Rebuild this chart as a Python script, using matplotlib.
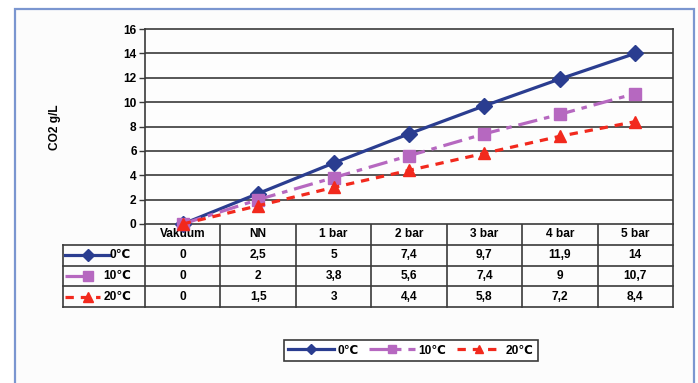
import matplotlib
matplotlib.use("Agg")
import matplotlib.pyplot as plt
from matplotlib.lines import Line2D
from matplotlib.patches import Rectangle
from matplotlib.font_manager import FontProperties

plt.rcParams['font.family'] = ['Liberation Sans', 'DejaVu Sans']
plt.rcParams['font.weight'] = 'bold'
plt.rcParams['lines.scale_dashes'] = False

categories = ["Vakuum", "NN", "1 bar", "2 bar", "3 bar", "4 bar", "5 bar"]
series_names = ["0℃", "10℃", "20℃"]
vals_0c = [0, 2.5, 5, 7.4, 9.7, 11.9, 14]
vals_10c = [0, 2, 3.8, 5.6, 7.4, 9, 10.7]
vals_20c = [0, 1.5, 3, 4.4, 5.8, 7.2, 8.4]
y_ticks = [0, 2, 4, 6, 8, 10, 12, 14, 16]
y_label = "CO2 g/L"

W, H = 698, 383
fig = plt.figure(figsize=(W / 100, H / 100), dpi=100, facecolor='white')

def fx(px):
    return px / W

def fy(py):
    return 1 - py / H

# outer frame
frame = Rectangle((fx(15), fy(420)), fx(694) - fx(15), fy(9.5) - fy(420),
                  transform=fig.transFigure, facecolor='#fcfcfc',
                  edgecolor='#7b96d0', lw=1.6, zorder=-10)
fig.patches.append(frame)

colors = ['#2a3d90', '#b668c0', '#f2291d']
markers = ['D', 's', '^']
msizes = [8, 8.5, 8.5]
dash_styles = ['-', (0, (14, 5, 4, 5)), (0, (6, 5))]
series = [vals_0c, vals_10c, vals_20c]
fs = 8.6

# main plot
px_left, px_right, px_top, px_bot = 145, 673, 29, 224
ax = fig.add_axes([fx(px_left), fy(px_bot), fx(px_right) - fx(px_left), fy(px_top) - fy(px_bot)])
ax.set_zorder(1)
ax.set_facecolor('#fdfdfd')
ax.set_xlim(-0.5, len(categories) - 0.5)
ax.set_ylim(0, 16)
ax.set_yticks(y_ticks)
ax.set_xticks([])
for t in y_ticks[1:-1]:
    ax.axhline(t, color='#3a3a3a', lw=1.2, zorder=1)
for s in ax.spines.values():
    s.set_color('#3a3a3a')
    s.set_linewidth(1.2)
ax.tick_params(axis='y', length=4, width=1.0, color='#3a3a3a', pad=2, labelsize=fs)
for lbl in ax.get_yticklabels():
    lbl.set_fontweight('bold')
ax.set_ylabel(y_label, fontsize=fs, fontweight='bold')
ax.yaxis.set_label_coords(-0.16, 0.497)

xs = list(range(len(categories)))
handles = []
for vals, c, m, ms, ls, name in zip(series, colors, markers, msizes, dash_styles, series_names):
    ln, = ax.plot(xs, vals, color=c, lw=2.3, linestyle=ls, marker=m, markersize=ms,
                  markeredgecolor=c, markerfacecolor=c, zorder=3, clip_on=False, label=name)
    handles.append(ln)

# data table
colw = (px_right - px_left) / len(categories)
tbl_left_px, tbl_bot_px = 63, 307
x_left = -0.5 - (px_left - tbl_left_px) / colw
tax = fig.add_axes([fx(tbl_left_px), fy(tbl_bot_px), fx(px_right) - fx(tbl_left_px), fy(px_bot) - fy(tbl_bot_px)])
tax.set_zorder(0.5)
tax.set_xlim(x_left, len(categories) - 0.5)
tax.set_ylim(4, 0)
tax.axis('off')
lc = '#3a3a3a'
for r in range(1, 5):
    tax.plot([x_left, len(categories) - 0.5], [r, r], color=lc, lw=1.2, clip_on=False)
for k in range(len(categories) + 1):
    tax.plot([k - 0.5, k - 0.5], [0, 4], color=lc, lw=1.2, clip_on=False)
tax.plot([x_left, x_left], [1, 4], color=lc, lw=1.2, clip_on=False)

for i, cat in enumerate(categories):
    tax.text(i, 0.5, cat, ha='center', va='center', fontsize=fs, fontweight='bold')
for r, vals in enumerate(series):
    for i, v in enumerate(vals):
        tax.text(i, r + 1.5, f"{v:g}".replace('.', ','), ha='center', va='center',
                 fontsize=fs, fontweight='bold')

def pxd(px):
    return -0.5 + (px - px_left) / colw

# legend keys inside table
key_specs = [(65, 110, 88), (65, 90, 88), (65, 100, 88)]
for r, ((a, b, mpos), c, m, ms, ls, name) in enumerate(zip(key_specs, colors, markers, msizes, dash_styles, series_names)):
    ky = r + 1.5
    tax.add_line(Line2D([pxd(a), pxd(b)], [ky, ky], color=c, lw=2.3, linestyle=ls, clip_on=False))
    tax.add_line(Line2D([pxd(mpos)], [ky], color=c, marker=m, markersize=ms - 2,
                        markeredgecolor=c, markerfacecolor=c, linestyle='none', clip_on=False))
    tax.text(pxd(131), ky, name, ha='right', va='center', fontsize=fs, fontweight='bold')

# bottom legend
leg = fig.legend(handles=handles, loc='center', bbox_to_anchor=(fx(411), fy(350.5)),
                 ncol=3, frameon=True, fancybox=False, framealpha=1, markerscale=0.7,
                 handlelength=3.8, handletextpad=0.3, columnspacing=0.9, borderpad=0.35,
                 prop=FontProperties(family=['Liberation Sans', 'DejaVu Sans'], weight='bold', size=fs))
leg.get_frame().set_edgecolor('#3a3a3a')
leg.get_frame().set_linewidth(1.2)

fig.savefig('out.png', dpi=100, facecolor='white')
